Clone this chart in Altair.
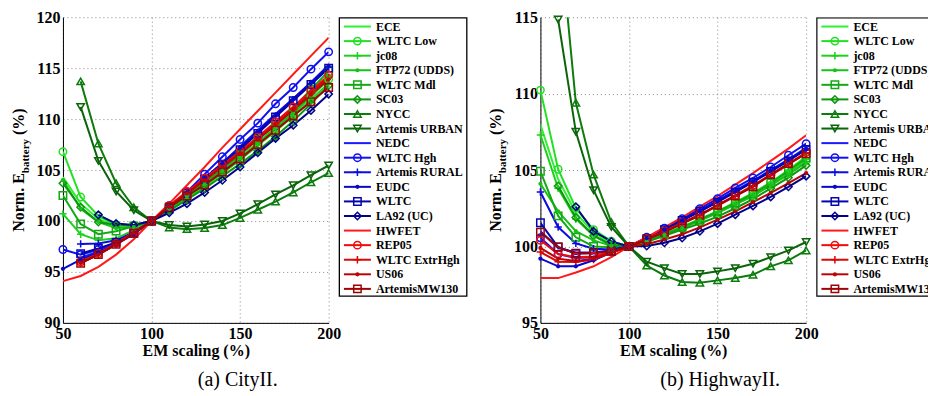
import altair as alt
import pandas as pd

N = None
x_vals = [50, 60, 70, 80, 90, 100, 110, 120, 130, 140, 150, 160, 170, 180, 190, 200]

series_names = ["ECE", "WLTC Low", "jc08", "FTP72 (UDDS)", "WLTC Mdl", "SC03", "NYCC",
                "Artemis URBAN", "NEDC", "WLTC Hgh", "Artemis RURAL", "EUDC", "WLTC",
                "LA92 (UC)", "HWFET", "REP05", "WLTC ExtrHgh", "US06", "ArtemisMW130"]
series_colors = ["#2ef02e", "#22e022", "#1dd01d", "#19c019", "#14a814", "#0f960f", "#0c7c0c",
                 "#0a640a", "#1a1aff", "#1010f0", "#0c0ce0", "#0808cc", "#0505b0", "#02028a",
                 "#ff1a1a", "#f00c0c", "#d80808", "#bb0505", "#a00303"]
series_markers = ["none", "circle", "plus", "dot", "square", "diamond", "triangle-up",
                  "triangle-down", "none", "circle", "plus", "dot", "square", "diamond",
                  "none", "circle", "plus", "dot", "square"]

# (a) CityII
city_ece = [104.3, 101.7, 100.2, 99.5, 99.5, 100, 101.2, 102.4, 103.7, 105.0, 106.3, 107.7, 109.2, 110.8, 112.5, 114.3]
city_wltc_low = [106.8, 102.35, 100.5, 99.6, 99.5, 100, 101.1, 102.3, 103.5, 104.8, 106.1, 107.5, 109.0, 110.5, 112.2, 113.9]
city_jc08 = [100.7, 98.7, 98.1, 98.3, 99.1, 100, 101.1, 102.2, 103.4, 104.7, 106.0, 107.4, 108.8, 110.3, 111.9, 113.5]
city_ftp72 = [104.0, 101.2, 99.9, 99.3, 99.4, 100, 101.2, 102.4, 103.6, 104.9, 106.2, 107.6, 109.1, 110.6, 112.3, 114.0]
city_wltc_mdl = [102.5, 99.7, 98.7, 99.0, 99.5, 100, 101.2, 102.5, 103.8, 105.1, 106.5, 108.0, 109.5, 111.1, 112.9, 114.7]
city_sc03 = [103.7, 101.35, 99.9, 99.6, 99.6, 100, 101.0, 102.1, 103.2, 104.4, 105.6, 106.9, 108.3, 109.8, 111.5, 113.3]
city_nycc = [N, 113.7, 107.6, 103.7, 101.35, 100, 99.35, 99.2, 99.3, 99.6, 100.3, 101.1, 101.9, 102.8, 103.8, 104.7]
city_urban = [N, 111.2, 105.9, 102.9, 101.05, 100, 99.6, 99.45, 99.65, 100.0, 100.75, 101.65, 102.6, 103.5, 104.5, 105.45]
city_nedc = [N, 96.4, 97.0, 97.8, 98.8, 100, 101.4, 102.8, 104.2, 105.7, 107.3, 108.9, 110.5, 112.0, 113.6, 115.3]
city_wltc_hgh = [97.2, 96.7, 97.2, 97.9, 98.9, 100, 101.5, 102.85, 104.6, 106.3, 108.0, 109.6, 111.5, 113.1, 114.9, 116.6]
city_rural = [N, 97.75, 97.8, 98.1, 98.9, 100, 101.35, 102.7, 104.1, 105.6, 107.1, 108.7, 110.3, 111.9, 113.5, 115.1]
city_eudc = [95.3, 96.2, 96.9, 97.7, 98.7, 100, 101.4, 102.8, 104.2, 105.7, 107.2, 108.8, 110.4, 112.0, 113.6, 115.2]
city_wltc = [N, 96.8, 97.3, 97.9, 98.8, 100, 101.3, 102.7, 104.1, 105.5, 107.0, 108.6, 110.2, 111.8, 113.4, 115.0]
city_la92 = [N, N, 100.6, 99.75, 99.6, 100, 100.8, 101.7, 102.8, 104.0, 105.3, 106.7, 108.1, 109.4, 110.85, 112.45]
city_hwfet = [94.1, 94.6, 95.5, 96.7, 98.2, 100, 101.7, 103.5, 105.3, 107.2, 109.0, 110.8, 112.6, 114.4, 116.2, 118.0]
city_rep05 = [N, 96.0, 96.8, 97.8, 98.9, 100, 101.5, 102.9, 104.2, 105.5, 106.85, 108.25, 109.75, 111.2, 112.75, 114.3]
city_extrhgh = [N, 95.9, 96.7, 97.7, 98.8, 100, 101.4, 102.8, 104.1, 105.4, 106.7, 108.1, 109.6, 111.0, 112.6, 114.1]
city_us06 = [N, 95.9, 96.7, 97.7, 98.8, 100, 101.4, 102.7, 104.0, 105.3, 106.6, 108.0, 109.4, 110.9, 112.4, 113.9]
city_mw130 = [N, 95.85, 96.7, 97.7, 98.8, 100, 101.37, 102.45, 103.56, 104.8, 106.1, 107.5, 108.9, 110.3, 111.7, 113.1]

# (b) HighwayII
hw_ece = [107.98, 104.4, 102.2, 100.9, 100.2, 100, 100.4, 100.85, 101.3, 101.8, 102.3, 102.9, 103.5, 104.2, 105.0, 105.9]
hw_wltc_low = [110.23, 105.05, 102.5, 101.1, 100.35, 100, 100.35, 100.75, 101.2, 101.7, 102.2, 102.75, 103.35, 104.0, 104.8, 105.6]
hw_jc08 = [107.3, 103.8, 101.8, 100.7, 100.1, 100, 100.4, 100.8, 101.25, 101.75, 102.25, 102.8, 103.4, 104.1, 104.9, 105.7]
hw_ftp72 = [104.1, 102.3, 101.0, 100.4, 100.05, 100, 100.35, 100.75, 101.2, 101.7, 102.2, 102.75, 103.3, 104.0, 104.7, 105.5]
hw_wltc_mdl = [104.92, 102.0, 100.6, 100.0, 99.95, 100, 100.4, 100.8, 101.25, 101.75, 102.3, 102.85, 103.45, 104.15, 104.95, 105.8]
hw_sc03 = [N, 103.96, 101.9, 100.7, 100.1, 100, 100.3, 100.7, 101.1, 101.5, 101.95, 102.5, 103.1, 103.8, 104.5, 105.3]
hw_nycc = [N, 121.5, 109.4, 104.7, 101.6, 100, 98.75, 98.1, 97.67, 97.62, 97.78, 97.93, 98.15, 98.7, 99.09, 99.74]
hw_urban = [N, 114.85, 107.5, 103.68, 101.27, 100, 99.0, 98.58, 98.2, 98.2, 98.37, 98.58, 98.87, 99.3, 99.74, 100.29]
hw_nedc = [101.0, 99.9, 99.6, 99.6, 99.75, 100, 100.55, 101.15, 101.75, 102.35, 103.0, 103.65, 104.3, 105.0, 105.7, 106.45]
hw_wltc_hgh = [100.57, 99.5, 99.25, 99.3, 99.65, 100, 100.6, 101.2, 101.81, 102.47, 103.13, 103.83, 104.48, 105.2, 105.97, 106.73]
hw_rural = [103.56, 101.27, 100.2, 99.85, 99.8, 100, 100.5, 101.1, 101.7, 102.3, 102.95, 103.6, 104.25, 104.95, 105.65, 106.4]
hw_eudc = [99.2, 98.7, 98.7, 99.1, 99.6, 100, 100.55, 101.1, 101.7, 102.3, 102.95, 103.6, 104.25, 104.95, 105.65, 106.35]
hw_wltc = [101.55, 99.96, 99.55, 99.55, 99.7, 100, 100.5, 101.1, 101.7, 102.3, 102.9, 103.55, 104.2, 104.9, 105.6, 106.35]
hw_la92 = [N, N, 102.6, 100.99, 100.33, 100, 100.03, 100.24, 100.55, 100.99, 101.49, 102.08, 102.65, 103.24, 103.9, 104.6]
hw_hwfet = [97.93, 97.93, 98.3, 98.7, 99.3, 100, 100.6, 101.25, 101.9, 102.6, 103.3, 104.05, 104.8, 105.6, 106.4, 107.28]
hw_rep05 = [100.4, 99.5, 99.3, 99.35, 99.65, 100, 100.5, 101.0, 101.55, 102.1, 102.7, 103.35, 104.0, 104.7, 105.4, 106.15]
hw_extrhgh = [99.63, 99.0, 98.98, 99.15, 99.6, 100, 100.45, 100.95, 101.5, 102.05, 102.65, 103.3, 103.95, 104.65, 105.35, 106.1]
hw_us06 = [99.9, 99.2, 99.05, 99.2, 99.6, 100, 100.15, 100.45, 100.8, 101.25, 101.75, 102.3, 102.9, 103.5, 104.15, 104.8]
hw_mw130 = [100.94, 99.96, 99.52, 99.57, 99.68, 100, 100.46, 100.94, 101.5, 102.04, 102.7, 103.3, 103.9, 104.7, 105.42, 106.07]

city_values = [city_ece, city_wltc_low, city_jc08, city_ftp72, city_wltc_mdl, city_sc03, city_nycc,
               city_urban, city_nedc, city_wltc_hgh, city_rural, city_eudc, city_wltc, city_la92,
               city_hwfet, city_rep05, city_extrhgh, city_us06, city_mw130]
hw_values = [hw_ece, hw_wltc_low, hw_jc08, hw_ftp72, hw_wltc_mdl, hw_sc03, hw_nycc, hw_urban,
             hw_nedc, hw_wltc_hgh, hw_rural, hw_eudc, hw_wltc, hw_la92, hw_hwfet, hw_rep05,
             hw_extrhgh, hw_us06, hw_mw130]

FONT = "Liberation Serif"
PLUS = "M-1,0L1,0M0,-1L0,1"
shape_of = {"circle": "circle", "square": "square", "diamond": "diamond",
            "triangle-up": "triangle-up", "triangle-down": "triangle-down", "plus": PLUS}
hollow_names = [n for n, m in zip(series_names, series_markers) if m in shape_of]
hollow_shapes = [shape_of[m] for m in series_markers if m in shape_of]

color_scale = alt.Scale(domain=series_names, range=series_colors)
shape_scale = alt.Scale(domain=hollow_names, range=hollow_shapes)
cenc = alt.Color("series:N", scale=color_scale, legend=None)
senc = alt.Shape("series:N", scale=shape_scale, legend=None)
one = pd.DataFrame({"k": [0]})

MSIZE = 55
DSIZE = 18


def long_table(values, ymax):
    rows = []
    for name, marker, vals in zip(series_names, series_markers, values):
        for xv, yv in zip(x_vals, vals):
            if yv is None:
                continue
            rows.append(dict(series=name, marker=marker, x=xv, y=yv, inview=bool(yv <= ymax)))
    return pd.DataFrame(rows)


def make_plot(values, ydom, yticks, caption, cap_x):
    df = long_table(values, ydom[1])
    base = alt.Chart(df)
    xenc = alt.X("x:Q", scale=alt.Scale(domain=[50, 200], nice=False, zero=False),
                 axis=alt.Axis(values=[50, 100, 150, 200], title="EM scaling (%)",
                               labelFlush=False, format="d"))
    yenc = alt.Y("y:Q", scale=alt.Scale(domain=ydom, nice=False, zero=False),
                 axis=alt.Axis(values=yticks, title=None, labelFlush=False, format="d"))
    lines = base.mark_line(strokeWidth=2, clip=True).encode(x=xenc, y=yenc, color=cenc)
    hollow = (base.transform_filter(alt.FieldOneOfPredicate(field="marker", oneOf=list(shape_of)))
              .transform_filter("datum.inview")
              .mark_point(filled=False, size=MSIZE, strokeWidth=1.5, opacity=1)
              .encode(x=xenc, y=yenc, color=cenc, shape=senc))
    dots = (base.transform_filter(alt.datum.marker == "dot")
            .mark_circle(size=DSIZE, opacity=1).encode(x=xenc, y=yenc, color=cenc))
    txt = dict(angle=270, align="left", baseline="alphabetic", font=FONT,
               fontWeight="bold", color="black")
    t1 = alt.Chart(one).mark_text(text="Norm. E", fontSize=16, **txt).encode(
        x=alt.value(-39), y=alt.value(214.8))
    t2 = alt.Chart(one).mark_text(text="battery", fontSize=11, **txt).encode(
        x=alt.value(-34), y=alt.value(156.1))
    t3 = alt.Chart(one).mark_text(text="(%)", fontSize=16, **txt).encode(
        x=alt.value(-39), y=alt.value(117.9))
    cap = alt.Chart(one).mark_text(text=caption, font=FONT, fontSize=20, color="black",
                                   align="center", baseline="middle").encode(
        x=alt.value(cap_x), y=alt.value(363))
    return alt.layer(lines, hollow, dots, t1, t2, t3, cap).properties(width=266, height=306)


def make_legend(width, box_w, clip):
    H = 280
    ldf = pd.DataFrame({"series": series_names, "idx": list(range(len(series_names))),
                        "marker": series_markers})
    base = alt.Chart(ldf)
    yenc = alt.Y("idx:Q", scale=alt.Scale(domain=[-0.64, 18.55], reverse=True, nice=False,
                                          zero=False), axis=None)
    box = alt.Chart(one).mark_rect(fill="white", stroke="black", strokeWidth=1.3, clip=clip).encode(
        x=alt.value(0.7), x2=alt.value(box_w), y=alt.value(0.7), y2=alt.value(H - 0.7))
    rules = base.mark_rule(strokeWidth=2).encode(x=alt.value(5.3), x2=alt.value(32.3), y=yenc,
                                                 color=cenc)
    hollow = (base.transform_filter(alt.FieldOneOfPredicate(field="marker", oneOf=list(shape_of)))
              .mark_point(filled=False, size=MSIZE, strokeWidth=1.5, opacity=1)
              .encode(x=alt.value(18.8), y=yenc, color=cenc, shape=senc))
    dots = (base.transform_filter(alt.datum.marker == "dot")
            .mark_circle(size=DSIZE, opacity=1).encode(x=alt.value(18.8), y=yenc, color=cenc))
    text = base.mark_text(align="left", baseline="middle", font=FONT, fontSize=12,
                          fontWeight="bold", color="black", clip=clip).encode(
        x=alt.value(37.3), y=yenc, text="series:N")
    return alt.layer(box, rules, hollow, dots, text).properties(width=width, height=H)


plot_a = make_plot(city_values, [90, 120], [90, 95, 100, 105, 110, 115, 120], "(a) CityII.", 175)
plot_b = make_plot(hw_values, [95, 115], [95, 100, 105, 110, 115], "(b) HighwayII.", 180)
leg_a = make_legend(192, 128.3, False)
leg_b = make_legend(112, 160, True)

chart = (alt.hconcat(plot_a, leg_a, plot_b, leg_b, spacing=10, bounds="flush")
         .properties(padding={"left": 2, "right": 0, "top": 0, "bottom": 0})
         .configure_view(stroke="transparent")
         .configure_axis(labelFont=FONT, labelFontSize=16, labelFontWeight="bold",
                         labelColor="black", labelPadding=3, titleFont=FONT, titleFontSize=16,
                         titleFontWeight="bold", titleColor="black", titlePadding=1,
                         domainColor="black", domainWidth=1, ticks=False,
                         gridColor="#888888", gridDash=[1, 3], gridWidth=1, gridOpacity=1))

chart.save("out.html", embed_options={"renderer": "svg", "actions": False})
